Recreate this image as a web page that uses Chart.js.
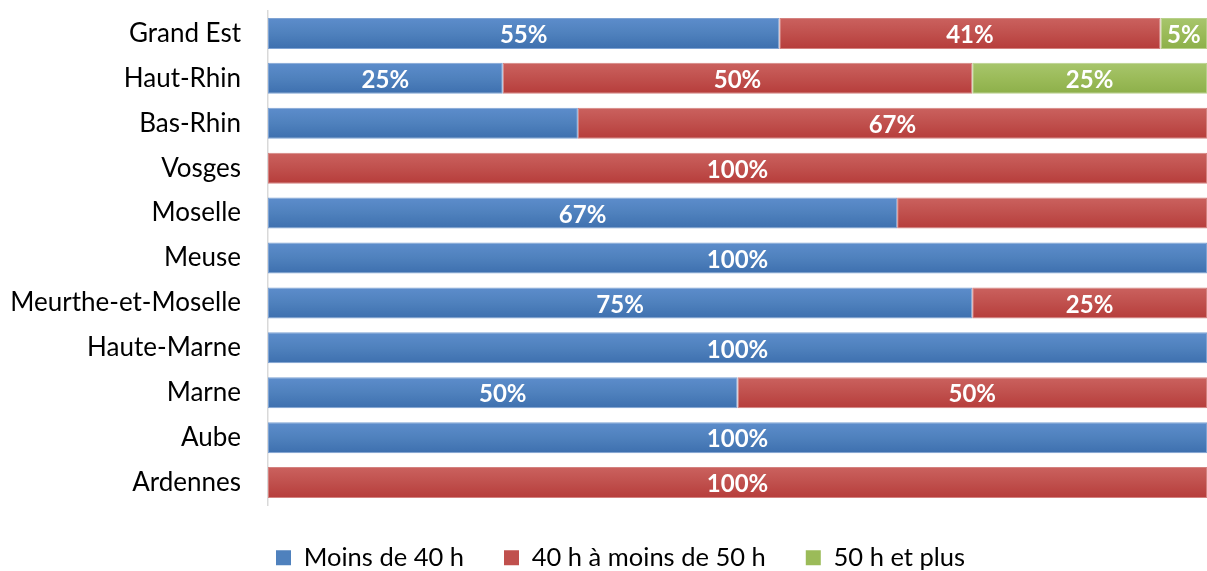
<!DOCTYPE html>
<html>
<head>
<meta charset="utf-8">
<script src="https://cdn.jsdelivr.net/npm/chart.js@4/dist/chart.umd.min.js"></script>
<style>
    html, body { margin: 0; padding: 0; background: #fff; }
    #wrap { width: 1207px; height: 571px; }
</style>
</head>
<body>
<div id="wrap"><canvas id="chart" width="1207" height="571"></canvas></div>
<script>
const categories = ['Grand Est', 'Haut-Rhin', 'Bas-Rhin', 'Vosges', 'Moselle', 'Meuse',
    'Meurthe-et-Moselle', 'Haute-Marne', 'Marne', 'Aube', 'Ardennes'];
const seriesNames = ['Moins de 40 h', '40 h à moins de 50 h', '50 h et plus'];
const moins40 = [55, 25, 33, 0, 67, 100, 75, 100, 50, 100, 0];
const de40a50 = [41, 50, 67, 100, 33, 0, 25, 0, 50, 0, 100];
const plus50 = [5, 25, 0, 0, 0, 0, 0, 0, 0, 0, 0];
// labels not shown on the original for these segments
const hiddenLabels = { 'Bas-Rhin': [0], 'Moselle': [1] };

const FONT = 'Lato, "Open Sans", sans-serif';

// 100% stacked: each row is scaled to its total, like the spreadsheet does
const totals = categories.map(function (c, i) {
    return moins40[i] + de40a50[i] + plus50[i];
});
function share(arr) {
    return arr.map(function (v, i) { return v / totals[i] * 100; });
}
const raw = [moins40, de40a50, plus50];

function barFill(top, mid, bottom) {
    return function (ctx) {
        const chart = ctx.chart;
        if (!chart.chartArea || ctx.type !== 'data') return mid;
        const yc = chart.scales.y.getPixelForValue(ctx.dataIndex);
        const g = chart.ctx.createLinearGradient(0, yc - 16, 0, yc + 16);
        g.addColorStop(0, top);
        g.addColorStop(0.5, mid);
        g.addColorStop(1, bottom);
        return g;
    };
}

const solid = ['#4f81bd', '#c0504d', '#9bbb59'];
const fills = [
    barFill('#5d8dcc', '#4f81bd', '#3d6fae'),
    barFill('#cb625f', '#c0504d', '#b63c3a'),
    barFill('#a8c66d', '#9bbb59', '#8caf49'),
];
const edges = ['#7fa3d3', '#d38280', '#b8d08a'];

const valueLabels = {
    id: 'valueLabels',
    afterDatasetsDraw: function (chart) {
        const ctx = chart.ctx;
        ctx.save();
        ctx.fillStyle = '#fff';
        ctx.font = 'bold 24px ' + FONT;
        ctx.textAlign = 'center';
        ctx.textBaseline = 'middle';
        chart.data.datasets.forEach(function (ds, di) {
            chart.getDatasetMeta(di).data.forEach(function (bar, i) {
                const v = raw[di][i];
                if (!v) return;
                const skip = hiddenLabels[categories[i]];
                if (skip && skip.indexOf(di) >= 0) return;
                ctx.fillText(v + '%', (bar.x + bar.base) / 2, bar.y + 2);
            });
        });
        ctx.restore();
    }
};

// fixed legend height so the plot ends where the original's does,
// and legend nudged right like in the original
const legendPlace = {
    id: 'legendPlace',
    beforeLayout: function (chart) {
        const lg = chart.legend;
        if (!lg || lg._fixed) return;
        const fit = lg.fit;
        lg.fit = function () {
            fit.call(this);
            this.height = 66;
        };
        lg._fixed = true;
    },
    afterLayout: function (chart) {
        if (chart.legend) chart.legend.left += 34;
    }
};

new Chart(document.getElementById('chart'), {
    type: 'bar',
    data: {
        labels: categories,
        datasets: seriesNames.map(function (name, k) {
            return {
                label: name,
                data: share(raw[k]),
                backgroundColor: fills[k],
                borderColor: edges[k],
                borderWidth: 1,
                borderSkipped: false,
                barPercentage: 0.69,
                categoryPercentage: 1,
            };
        }),
    },
    options: {
        indexAxis: 'y',
        responsive: false,
        animation: false,
        layout: { padding: { top: 11, right: 0, left: 0, bottom: 0 } },
        plugins: {
            tooltip: { enabled: false },
            legend: {
                position: 'bottom',
                labels: {
                    color: '#000',
                    font: { family: FONT, size: 25.5 },
                    boxWidth: 15,
                    boxHeight: 15,
                    padding: 40,
                    generateLabels: function (chart) {
                        return chart.data.datasets.map(function (ds, k) {
                            return {
                                text: ds.label,
                                fillStyle: solid[k],
                                strokeStyle: solid[k],
                                lineWidth: 0,
                                datasetIndex: k,
                            };
                        });
                    },
                },
            },
        },
        scales: {
            x: {
                stacked: true,
                min: 0,
                max: 100,
                display: false,
            },
            y: {
                stacked: true,
                grid: { display: false, drawTicks: false },
                border: { display: true, color: '#d9d9d9', width: 1.5 },
                ticks: {
                    color: '#000',
                    font: { family: FONT, size: 26 },
                    padding: 27,
                },
                afterFit: function (s) {
                    s.width = 268;
                    s.paddingTop = 0;
                    s.paddingBottom = 0;
                },
            },
        },
    },
    plugins: [valueLabels, legendPlace],
});
</script>
</body>
</html>
